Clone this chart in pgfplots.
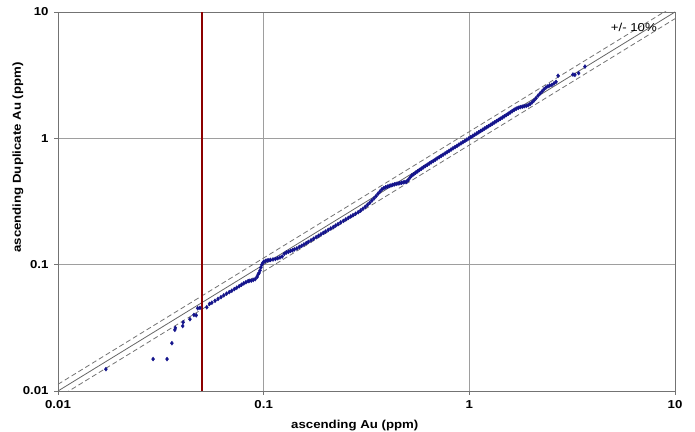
\documentclass[border=0pt]{standalone}
\usepackage{pgfplots}
\pgfplotsset{compat=1.18}
\usepackage{fontspec}
\setmainfont{Liberation Sans}[FakeStretch=1.15]
\definecolor{ptblue}{RGB}{20,20,140}
\definecolor{redline}{RGB}{140,0,0}
\pgfplotstableread{
x y
0.0171 0.0149
0.0290 0.0179
0.0339 0.0179
0.0358 0.0239
0.0370 0.0305
0.0372 0.0316
0.0404 0.0327
0.0406 0.0350
0.0438 0.0370
0.0458 0.0400
0.0470 0.0397
0.0478 0.0452
0.0490 0.0455
0.0529 0.0460
0.0545 0.0489
0.056 0.0500
0.058 0.0518
0.060 0.0536
0.062 0.0553
0.064 0.0572
0.066 0.0590
0.068 0.0606
0.070 0.0622
0.072 0.0640
0.074 0.0657
0.076 0.0675
0.078 0.0694
0.080 0.0711
0.082 0.0726
0.084 0.0740
0.085 0.0745
0.087 0.0748
0.089 0.0757
0.091 0.0770
0.093 0.0800
0.094 0.0840
0.095 0.0860
0.096 0.0900
0.097 0.0950
0.098 0.1000
0.099 0.1030
0.100 0.1050
0.102 0.1070
0.104 0.1080
0.106 0.1085
0.108 0.1090
0.111 0.1100
0.114 0.1110
0.117 0.1125
0.120 0.1140
0.123 0.1160
0.126 0.1220
0.129 0.1250
0.132 0.1265
0.135 0.1285
0.138 0.1300
0.141 0.1320
0.145 0.1345
0.149 0.1380
0.153 0.1410
0.157 0.1445
0.161 0.1480
0.165 0.1515
0.170 0.1560
0.175 0.1605
0.180 0.1650
0.185 0.1695
0.190 0.1740
0.195 0.1785
0.200 0.1830
0.206 0.1885
0.212 0.1935
0.218 0.1985
0.224 0.2040
0.230 0.2095
0.237 0.2160
0.244 0.2220
0.251 0.2285
0.258 0.2345
0.265 0.2405
0.272 0.2465
0.280 0.2530
0.288 0.2600
0.296 0.2680
0.304 0.2770
0.312 0.2870
0.320 0.2980
0.328 0.3090
0.336 0.3220
0.344 0.3350
0.352 0.3490
0.360 0.3650
0.368 0.3800
0.376 0.3950
0.384 0.4040
0.392 0.4100
0.400 0.4150
0.408 0.4200
0.416 0.4240
0.424 0.4280
0.432 0.4320
0.441 0.4360
0.450 0.4390
0.459 0.4420
0.468 0.4450
0.477 0.4480
0.486 0.4510
0.495 0.4540
0.505 0.4700
0.515 0.4900
0.525 0.5080
0.536 0.5200
0.548 0.5350
0.560 0.5480
0.572 0.5620
0.585 0.5760
0.598 0.5900
0.611 0.6040
0.625 0.6180
0.639 0.6330
0.653 0.6470
0.668 0.6620
0.683 0.6780
0.698 0.6940
0.714 0.7100
0.730 0.7270
0.746 0.7430
0.763 0.7600
0.780 0.7780
0.797 0.7960
0.815 0.8150
0.833 0.8340
0.852 0.8530
0.871 0.8720
0.890 0.8920
0.910 0.9120
0.930 0.9330
0.951 0.9540
0.972 0.9760
0.994 0.9980
1.016 1.0210
1.039 1.0440
1.062 1.0680
1.086 1.0920
1.110 1.1170
1.135 1.1420
1.160 1.1680
1.186 1.1950
1.213 1.2220
1.240 1.2500
1.268 1.2780
1.296 1.3070
1.325 1.3370
1.355 1.3670
1.385 1.3980
1.416 1.4300
1.448 1.4620
1.480 1.4950
1.513 1.5300
1.547 1.5660
1.582 1.6040
1.617 1.6450
1.654 1.6850
1.691 1.7180
1.729 1.7450
1.768 1.7650
1.808 1.7800
1.848 1.7950
1.890 1.8100
1.932 1.8300
1.975 1.8700
2.020 1.9300
2.065 2.0000
2.110 2.0800
2.160 2.1800
2.210 2.2700
2.260 2.3600
2.310 2.4500
2.360 2.5300
2.410 2.5800
2.460 2.6200
2.520 2.6500
2.580 2.7200
2.640 2.8000
2.700 3.1300
3.190 3.2000
3.260 3.1800
3.400 3.2800
3.650 3.7000
}\dupdata
\begin{document}
\begin{tikzpicture}
\begin{axis}[name=ax, scale only axis, width=617bp, height=379bp,
  xmode=log, ymode=log,
  xmin=0.01, xmax=10, ymin=0.01, ymax=10,
  xtick={0.01,0.1,1,10}, xticklabels={0.01,0.1,1,10},
  ytick={0.01,0.1,1,10}, yticklabels={0.01,0.1,1,10},
  xminorticks=false, yminorticks=false,
  grid=major, major grid style={black!38, line width=0.9bp},
  axis line style={black!55, line width=0.9bp},
  tick pos=left, tick align=outside, major tick length=4bp,
  tick style={black!55, line width=0.9bp},
  tick label style={font=\fontsize{11.5bp}{13bp}\selectfont\bfseries},
  xticklabel style={yshift=-2bp},
  yticklabel style={xshift=-2bp},
  xlabel={ascending Au (ppm)}, ylabel={ascending Duplicate Au (ppm)},
  label style={font=\fontsize{11.5bp}{13bp}\selectfont\bfseries},
  xlabel style={at={(axis description cs:0.481,-0.09)}, anchor=center},
  ylabel style={at={(axis description cs:-0.0648,0.616)}, anchor=center, rotate=0},
  clip=true,
]
\addplot[black!60, line width=0.8bp] coordinates {(0.01,0.01) (10,10)};
\addplot[black!55, line width=0.8bp, dash pattern=on 5bp off 3bp] coordinates {(0.01,0.0113) (10,11.3)};
\addplot[black!55, line width=0.8bp, dash pattern=on 5bp off 3bp] coordinates {(0.01,0.00885) (10,8.85)};
\addplot[redline, line width=2bp] coordinates {(0.05,0.01) (0.05,10)};
\addplot[only marks, mark=diamond*, mark size=2bp, ptblue] table[x=x,y=y] {\dupdata};
\node[font=\fontsize{11.5bp}{13bp}\selectfont, anchor=center] at (axis cs:6.31,7.62) {+/- 10\%};
\end{axis}
\pgfresetboundingbox
\path ([xshift=-58bp,yshift=-41bp]ax.south west) rectangle ([xshift=20bp,yshift=12bp]ax.north east);
\end{tikzpicture}
\end{document}
